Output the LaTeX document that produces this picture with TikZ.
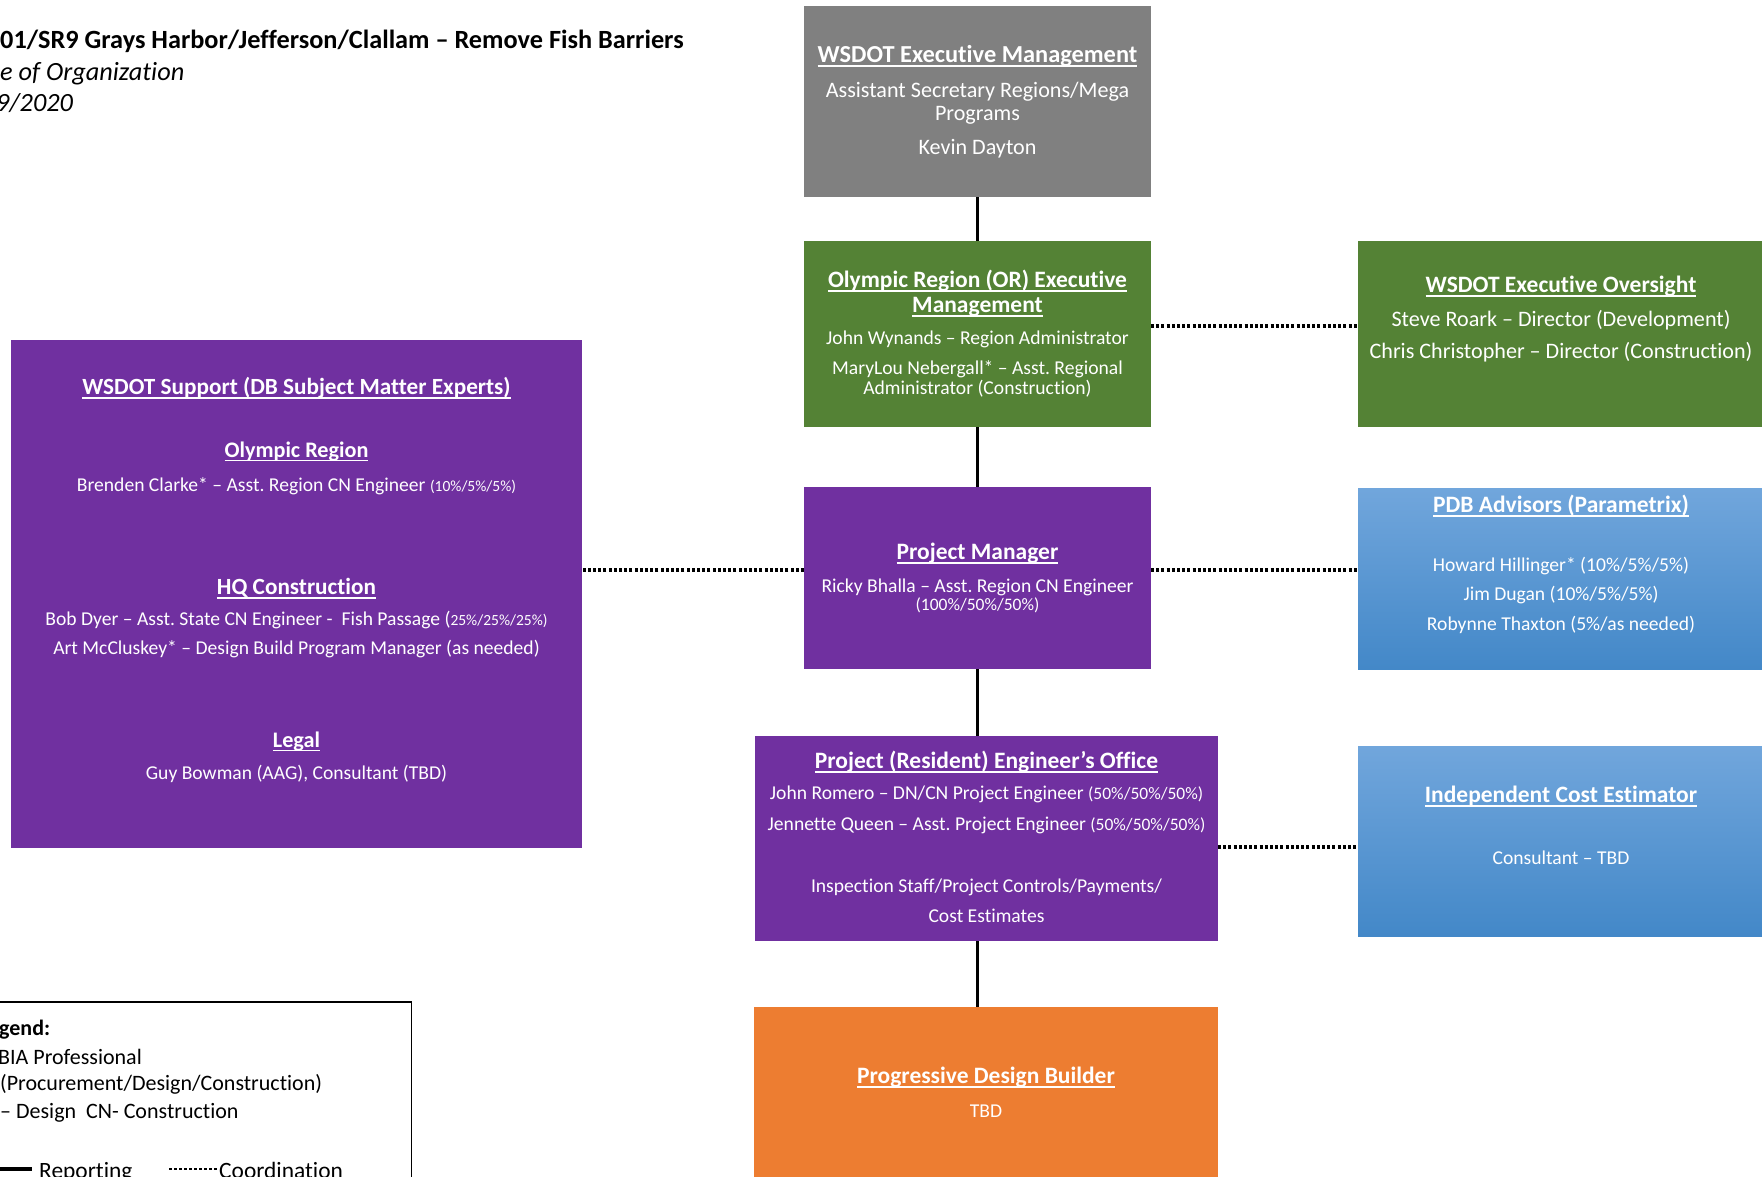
\documentclass[tikz,border=0pt]{standalone}
\usepackage{fontspec}
\setmainfont{Carlito}[Ligatures=NoCommon]
\frenchspacing
\definecolor{cgray}{RGB}{128,128,128}
\definecolor{cgreen}{RGB}{84,130,53}
\definecolor{cpurple}{RGB}{112,48,160}
\definecolor{corange}{RGB}{237,125,49}
\definecolor{cbluetop}{RGB}{113,166,220}
\definecolor{cbluebot}{RGB}{67,136,200}
\newcommand\myul[1]{{\setbox0=\hbox{#1}\rlap{\rule[-0.2em]{\wd0}{0.075em}}\box0}}
\newcommand\ftitle{\fontsize{23.5}{28}\selectfont\bfseries}
\newcommand\ftitlebig{\fontsize{24.4}{29}\selectfont\bfseries}
\newcommand\ftitlesup{\fontsize{23.2}{27}\selectfont\bfseries}
\newcommand\ftitlesm{\fontsize{22.2}{27}\selectfont\bfseries}
\newcommand\fbody{\fontsize{19.6}{23.5}\selectfont}
\newcommand\fbodybig{\fontsize{22.1}{26}\selectfont}
\newcommand\fsmallp{\fontsize{15.5}{18}\selectfont}
\newcommand\fmidp{\fontsize{17.5}{21}\selectfont}
\newcommand\fhead{\fontsize{26.3}{31}\selectfont}
\newcommand\flegend{\fontsize{22}{26}\selectfont}
\newcommand\flegendbig{\fontsize{23.4}{28}\selectfont}
\tikzset{
  box/.style={rectangle, draw=none, inner sep=0pt, outer sep=0pt},
  bluebox/.style={box, top color=cbluetop, bottom color=cbluebot},
  wt/.style={text=white, inner sep=0pt, anchor=base, font=\fbody},
  tt/.style={text=white, inner sep=0pt, anchor=base, font=\ftitle},
  bt/.style={text=black, inner sep=0pt, anchor=base west},
  rep/.style={line width=3pt, black},
  coordline/.style={line width=3.8pt, black, dash pattern=on 3pt off 2.2pt},
}
\begin{document}
\begin{tikzpicture}[x=1pt,y=-1pt]
\useasboundingbox (0,0) rectangle (1762,1176);
\fill[white] (0,0) rectangle (1762,1176);

% header
\node[bt, font=\fhead\bfseries] (h1) at (0,48) {01/SR9 Grays Harbor/Jefferson/Clallam – Remove Fish Barriers};
\node[bt, font=\fhead\itshape] (h2) at (0,80) {e of Organization};
\node[bt, font=\fhead\itshape] (h3) at (-4,111) {9/2020};

% boxes
\node[box, fill=cgray, minimum width=347pt, minimum height=191pt] (gray) at (977.5,101.5) {};
\node[box, fill=cgreen, minimum width=347pt, minimum height=186pt] (orx) at (977.5,334) {};
\node[box, fill=cgreen, minimum width=406pt, minimum height=186pt] (over) at (1561,334) {};
\node[box, fill=cpurple, minimum width=571pt, minimum height=508pt] (sup) at (296.5,594) {};
\node[box, fill=cpurple, minimum width=347pt, minimum height=182pt] (pm) at (977.5,578) {};
\node[bluebox, minimum width=406pt, minimum height=181pt] (pdb) at (1561,578.5) {};
\node[box, fill=cpurple, minimum width=463pt, minimum height=205pt] (pe) at (986.5,838.5) {};
\node[bluebox, minimum width=406pt, minimum height=190pt] (ice) at (1561,841) {};
\node[box, fill=corange, minimum width=464pt, minimum height=190pt] (pdbld) at (986,1102) {};
\node[box, draw=black, line width=1.6pt, minimum width=428pt, minimum height=200pt] (legend) at (197.5,1102) {};

% reporting lines
\draw[rep] (gray.south) -- (gray.south |- orx.north);
\draw[rep] (orx.south) -- (orx.south |- pm.north);
\draw[rep] (pm.south) -- (pm.south |- pe.north);
\draw[rep] (pm.south |- pe.south) -- (pm.south |- pdbld.north);

% coordination lines
\draw[coordline] ([yshift=8pt]orx.east) -- ([yshift=8pt]orx.east -| over.west);
\draw[coordline] ([yshift=8pt]pm.west) -- ([yshift=8pt]pm.west -| sup.east);
\draw[coordline] ([yshift=8pt]pm.east) -- ([yshift=8pt]pm.east -| pdb.west);
\draw[coordline] ([yshift=-8.5pt]pe.east) -- ([yshift=-8.5pt]pe.east -| ice.west);

% gray texts
\node[tt, font=\ftitlebig] (g1) at (977.5,62) {\myul{WSDOT Executive Management}};
\node[wt, font=\fbodybig] (g2) at (977.5,97) {Assistant Secretary Regions/Mega};
\node[wt, font=\fbodybig] (g3) at (977.5,120) {Programs};
\node[wt, font=\fbodybig] (g4) at (977.5,154) {Kevin Dayton};

% OR texts
\node[tt] (o1) at (977.5,287) {\myul{Olympic Region (OR) Executive}};
\node[tt] (o2) at (977.5,312) {\myul{Management}};
\node[wt] (o3) at (977.5,344) {John Wynands – Region Administrator};
\node[wt] (o4) at (977.5,374) {MaryLou Nebergall* – Asst. Regional};
\node[wt] (o5) at (977.5,394) {Administrator (Construction)};

% oversight texts
\node[tt] (v1) at (1561,292) {\myul{WSDOT Executive Oversight}};
\node[wt, font=\fbodybig] (v2) at (1561,326) {Steve Roark – Director (Development)};
\node[wt, font=\fbodybig] (v3) at (1561,358) {Chris Christopher – Director (Construction)};

% support texts
\node[tt, font=\ftitlesup] (s1) at (296.5,394) {\myul{WSDOT Support (DB Subject Matter Experts)}};
\node[tt, font=\ftitlesm] (s2) at (296.5,457) {\myul{Olympic Region}};
\node[wt] (s3) at (296.5,491) {Brenden Clarke* – Asst. Region CN Engineer {\fsmallp(10\%/5\%/5\%)}};
\node[tt, font=\ftitlesup] (s4) at (296.5,594) {\myul{HQ Construction}};
\node[wt] (s5) at (296.5,625) {Bob Dyer – Asst. State CN Engineer -\ \ Fish Passage ({\fsmallp25\%/25\%/25\%)}};
\node[wt] (s6) at (296.5,654) {Art McCluskey* – Design Build Program Manager (as needed)};
\node[tt, font=\ftitlesm] (s7) at (296.5,747) {\myul{Legal}};
\node[wt] (s8) at (296.5,779) {Guy Bowman (AAG), Consultant (TBD)};

% PM texts
\node[tt] (p1) at (977.5,559) {\myul{Project Manager}};
\node[wt] (p2) at (977.5,592) {Ricky Bhalla – Asst. Region CN Engineer};
\node[wt, font=\fmidp] (p3) at (977.5,610) {(100\%/50\%/50\%)};

% PDB texts
\node[tt] (d1) at (1561,512) {\myul{PDB Advisors (Parametrix)}};
\node[wt] (d2) at (1561,571) {Howard Hillinger* (10\%/5\%/5\%)};
\node[wt] (d3) at (1561,600) {Jim Dugan (10\%/5\%/5\%)};
\node[wt] (d4) at (1561,630) {Robynne Thaxton (5\%/as needed)};

% PE texts
\node[tt] (e1) at (986.5,768) {\myul{Project (Resident) Engineer’s Office}};
\node[wt] (e2) at (986.5,799) {John Romero – DN/CN Project Engineer {\fmidp(50\%/50\%/50\%)}};
\node[wt] (e3) at (986.5,830) {Jennette Queen – Asst. Project Engineer {\fmidp(50\%/50\%/50\%)}};
\node[wt] (e4) at (986.5,892) {Inspection Staff/Project Controls/Payments/};
\node[wt] (e5) at (986.5,922) {Cost Estimates};

% ICE texts
\node[tt] (i1) at (1561,802) {\myul{Independent Cost Estimator}};
\node[wt] (i2) at (1561,864) {Consultant – TBD};

% PDB builder texts
\node[tt] (b1) at (986,1083) {\myul{Progressive Design Builder}};
\node[wt] (b2) at (986,1117) {TBD};

% legend texts
\node[bt, font=\flegend\bfseries] (l1) at (-1,1035) {gend:};
\node[bt, font=\flegend] (l2) at (-2,1064) {BIA Professional};
\node[bt, font=\flegend] (l3) at (0,1090) {(Procurement/Design/Construction)};
\node[bt, font=\flegend] (l4) at (0,1118) {– Design\ \ CN- Construction};
\coordinate (rs) at (-5,1169);
\coordinate (re) at (32,1169);
\draw[line width=4pt] (rs) -- (re);
\node[bt, font=\flegendbig] (l5) at (39,1178) {Reporting};
\coordinate (cs) at (169,1169);
\coordinate (ce) at (217,1169);
\draw[line width=2.8pt, dash pattern=on 2.5pt off 2.5pt] (cs) -- (ce);
\node[bt, font=\flegendbig] (l6) at (219,1178) {Coordination};
\end{tikzpicture}
\end{document}
